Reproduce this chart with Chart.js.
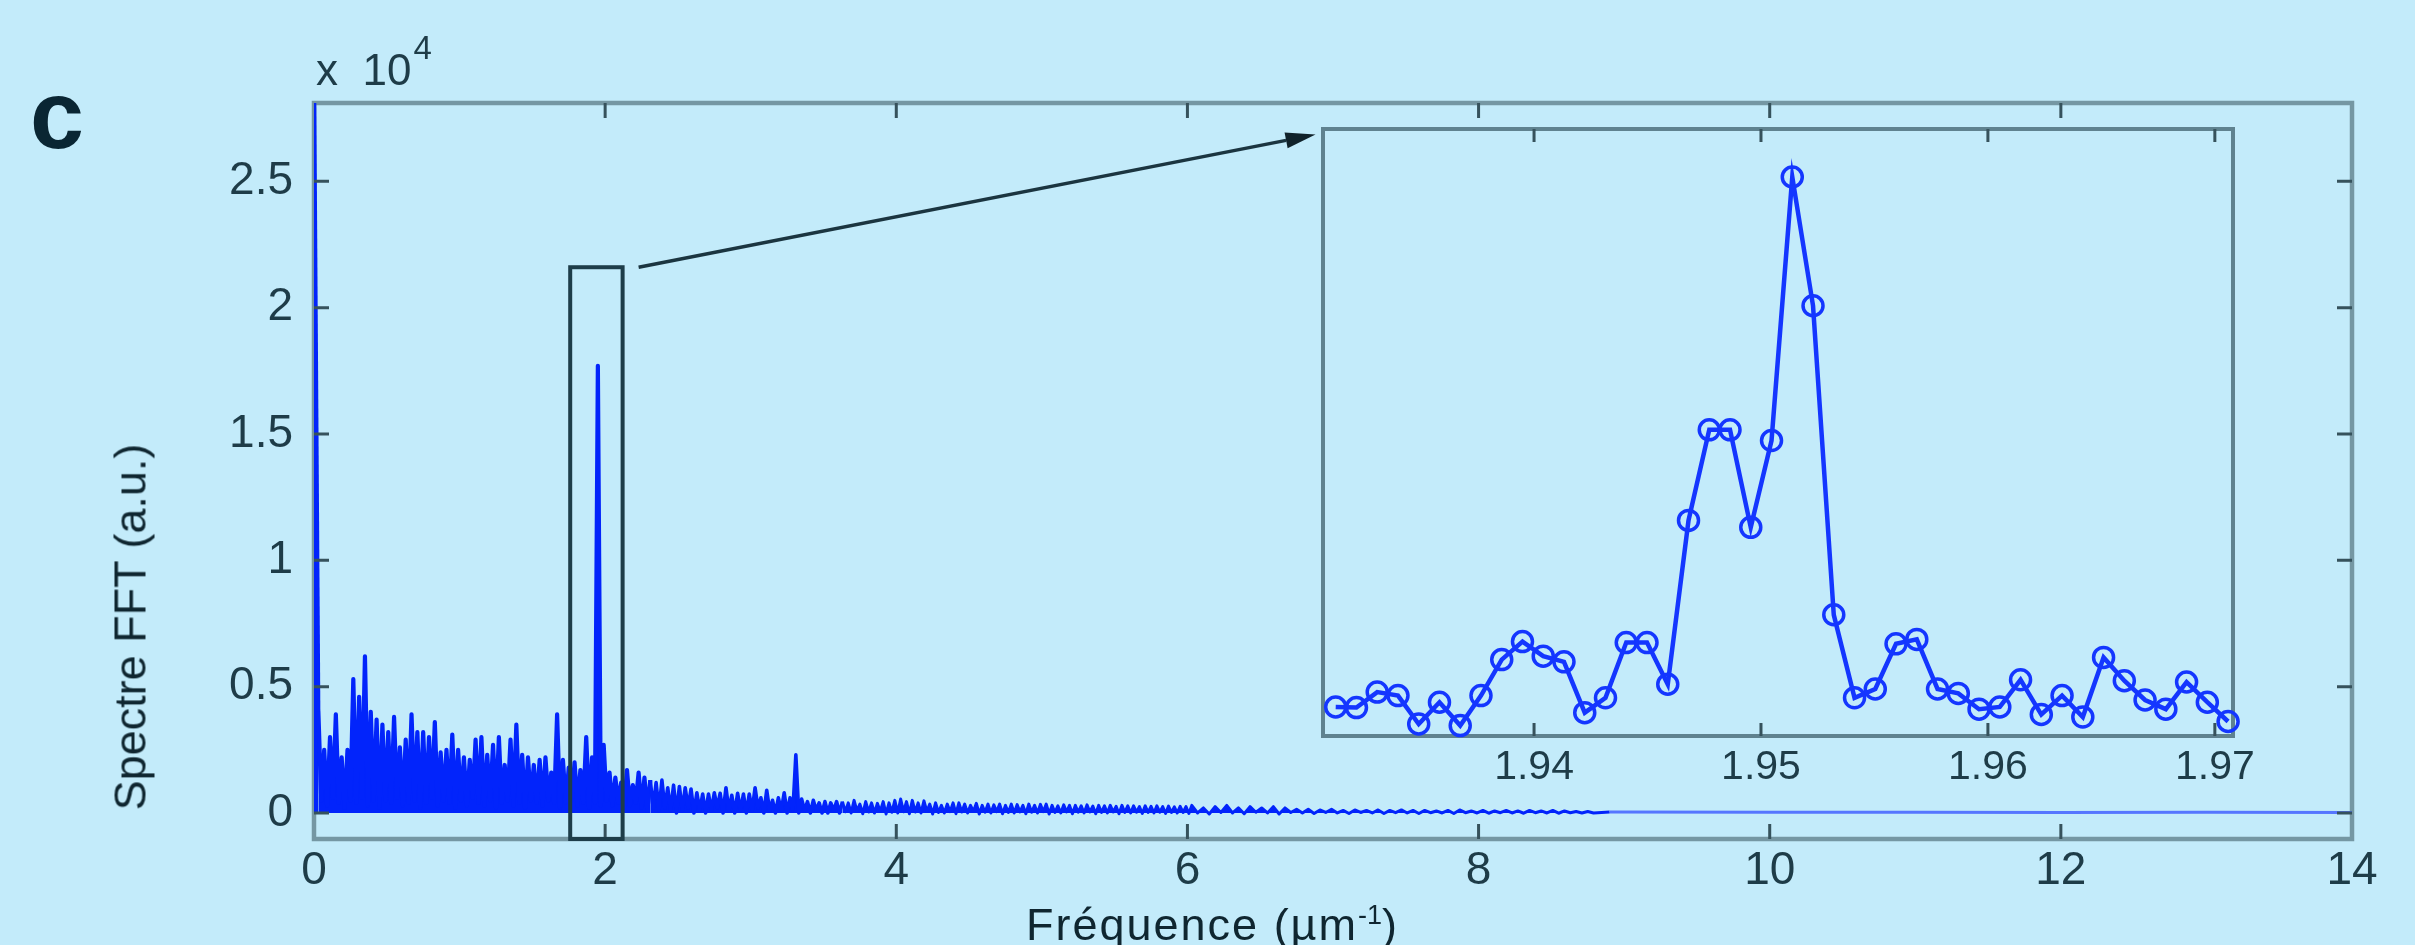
<!DOCTYPE html>
<html>
<head>
<meta charset="utf-8">
<script src="https://cdn.jsdelivr.net/npm/chart.js@4.4.1/dist/chart.umd.min.js"></script>
<style>
  html, body { margin: 0; padding: 0; background: #c3ebfa; }
  #wrap { position: relative; width: 2415px; height: 945px; overflow: hidden;
          font-family: 'Liberation Sans', Arial, Helvetica, sans-serif; }
  #wrap canvas { position: absolute; left: 0; top: 0; }
  .lbl { position: absolute; white-space: nowrap; line-height: 1; }
  #panel { left: 30px; top: 66px; font-size: 97px; font-weight: bold; color: #0a2633; }
  #mult { left: 316px; top: 48px; font-size: 44px; color: #1e3c48; }
  #mult .sup { position: relative; top: -26px; font-size: 33px; margin-left: 2px; }
  #xtitle { left: 1026px; top: 902px; font-size: 45px; letter-spacing: 2px; color: #0f2630; }
  #xtitle .sup { position: relative; top: -16px; font-size: 27px; letter-spacing: 0; }
  #ytitle { left: 130px; top: 627px; font-size: 45px; color: #0f2630;
            transform: translate(-50%, -50%) rotate(-90deg); }
</style>
</head>
<body>
<div id="wrap">
  <canvas id="main-chart" width="2415" height="945"></canvas>
  <canvas id="inset-chart" width="2415" height="945"></canvas>
  <div class="lbl" id="panel">c</div>
  <div class="lbl" id="mult">x&nbsp;&nbsp;10<span class="sup">4</span></div>
  <div class="lbl" id="xtitle">Fréquence (µm<span class="sup">-1</span>)</div>
  <div class="lbl" id="ytitle">Spectre FFT (a.u.)</div>
</div>
<script>
// Spectrum values, in units of 10^4
const dcValue = 3.0;

// dense part (0 to 6): one peak value and one valley value per bin pair
const specStart = 0.03, specStep = 0.04;
const specHi = [
  0.40, 0.25, 0.30, 0.39, 0.22, 0.25, 0.53, 0.46, 0.62, 0.40,
  0.37, 0.35, 0.32, 0.38, 0.26, 0.29, 0.39, 0.32, 0.32, 0.30,
  0.36, 0.24, 0.25, 0.31, 0.25, 0.22, 0.21, 0.29, 0.30, 0.23,
  0.27, 0.30, 0.19, 0.29, 0.35, 0.23, 0.22, 0.19, 0.21, 0.22,
  0.16, 0.39, 0.21, 0.18, 0.20, 0.17, 0.30, 0.22, 1.77, 0.27,
  0.16, 0.14, 0.12, 0.17, 0.11, 0.16, 0.14, 0.13, 0.12, 0.13,
  0.10, 0.11, 0.105, 0.10, 0.095, 0.08, 0.075, 0.075, 0.08, 0.078,
  0.10, 0.07, 0.078, 0.075, 0.075, 0.10, 0.06, 0.09, 0.05, 0.06,
  0.08, 0.06, 0.23, 0.055, 0.045, 0.05, 0.04, 0.045, 0.04, 0.045,
  0.045, 0.04, 0.05, 0.035, 0.045, 0.04, 0.038, 0.045, 0.04, 0.05,
  0.055, 0.045, 0.05, 0.04, 0.048, 0.035, 0.04, 0.03, 0.035, 0.04,
  0.04, 0.035, 0.03, 0.038, 0.03, 0.035, 0.032, 0.035, 0.03, 0.035,
  0.033, 0.03, 0.035, 0.03, 0.034, 0.035, 0.03, 0.028, 0.032, 0.03,
  0.03, 0.028, 0.032, 0.027, 0.03, 0.028, 0.03, 0.026, 0.03, 0.028,
  0.028, 0.025, 0.028, 0.026, 0.028, 0.025, 0.027, 0.024, 0.026, 0.025
];
const specLo = [
  0.05, 0.03, 0.06, 0.04, 0.02, 0.05, 0.04, 0.06, 0.03, 0.05,
  0.02, 0.05, 0.04, 0.06, 0.03, 0.04, 0.05, 0.02, 0.04, 0.06,
  0.03, 0.05, 0.04, 0.02, 0.05, 0.03, 0.06, 0.04, 0.03, 0.05,
  0.02, 0.04, 0.05, 0.03, 0.04, 0.02, 0.05, 0.04, 0.03, 0.05,
  0.04, 0.02, 0.04, 0.05, 0.03, 0.04, 0.02, 0.04, 0.03, 0.05,
  0.03, 0.04, 0.02, 0.03, 0.04, 0.02, 0.01, 0.02, 0.01, 0.02,
  0.01, 0.00, 0.01, 0.02, 0.00, 0.01, 0.00, 0.01, 0.02, 0.00,
  0.01, 0.00, 0.01, 0.00, 0.01, 0.02, 0.00, 0.01, 0.00, 0.01,
  0.00, 0.01, 0.00, 0.01, 0.00, 0.01, 0.00, 0.00, 0.01, 0.00,
  0.005, 0.00, 0.008, -0.003, 0.004, 0.00, 0.006, -0.004, 0.003, 0.00,
  0.005, -0.003, 0.004, 0.00, 0.006, -0.004, 0.002, 0.00, 0.005, -0.003,
  0.004, 0.00, 0.006, -0.004, 0.003, 0.00, 0.005, -0.003, 0.002, 0.00,
  0.004, -0.003, 0.003, 0.00, 0.005, -0.004, 0.002, 0.00, 0.004, -0.003,
  0.003, 0.00, 0.004, -0.003, 0.002, 0.00, 0.004, -0.003, 0.002, 0.00,
  0.003, -0.002, 0.002, 0.00, 0.003, -0.002, 0.002, 0.00, 0.002, -0.002
];

// thin tail after x = 6
const tailStart = 6.03, tailStep = 0.08;
const tailHi = [
  0.03, 0.02, 0.025, 0.03, 0.02, 0.025, 0.02, 0.025, 0.02, 0.015,
  0.015, 0.012, 0.015, 0.01, 0.012, 0.01, 0.012, 0.01, 0.012, 0.01,
  0.01, 0.008, 0.01, 0.012, 0.008, 0.01, 0.008, 0.01, 0.008, 0.01,
  0.008, 0.01, 0.008, 0.006, 0.006
];
const tailLo = [
  0.00, -0.004, 0.002, 0.00, -0.003, 0.003, 0.00, -0.004, 0.002, 0.00,
  -0.002, 0.002, 0.00, -0.002, 0.002, 0.00, -0.002, 0.001, 0.00, -0.002,
  0.001, 0.00, -0.002, 0.001, 0.00, -0.001, 0.001, 0.00, -0.001, 0.001,
  0.00, -0.001, 0.001, 0.00, 0.00
];
const flatX = [8.9, 10, 11, 12, 13, 14];
const flatY = [0.004, 0.003, 0.003, 0.002, 0.003, 0.002];

// Inset: the peak near 1.95 um^-1, one value per FFT bin
const insetStart = 1.93126, insetStep = 0.0009145;
const insetY = [
  0.092, 0.090, 0.139, 0.128, 0.038, 0.107, 0.033, 0.128, 0.242, 0.299,
  0.253, 0.235, 0.074, 0.121, 0.296, 0.296, 0.164, 0.683, 0.970, 0.970,
  0.661, 0.936, 1.771, 1.363, 0.384, 0.121, 0.149, 0.292, 0.306, 0.149,
  0.135, 0.085, 0.092, 0.178, 0.068, 0.128, 0.060, 0.249, 0.175, 0.114,
  0.085, 0.171, 0.107, 0.046
];

// Ticks
const xTicks = [0, 2, 4, 6, 8, 10, 12, 14];
const xTickLabels = ['0', '2', '4', '6', '8', '10', '12', '14'];
const yTicks = [0, 0.5, 1, 1.5, 2, 2.5];
const yTickLabels = ['0', '0.5', '1', '1.5', '2', '2.5'];
const insetTicks = [1.94, 1.95, 1.96, 1.97];
const insetTickLabels = ['1.94', '1.95', '1.96', '1.97'];

// Zoom window and arrow (data units of the main plot)
const zoomX = [1.76, 2.12];
const zoomTop = 2.16;
const arrowFrom = [2.23, 2.16];
const arrowTo = [6.88, 2.685];

// Colours
const bgColor = '#c3ebfa';
const frameColor = '#7597a3';
const tickColor = '#36525c';
const labelColor = '#1e3c48';
const specColor = '#0224fb';
const fontFamily = "'Liberation Sans', Arial, Helvetica, sans-serif";

function buildSpectrum() {
  const pts = [{ x: 0, y: dcValue }];
  specHi.forEach((v, i) => {
    const x = specStart + i * specStep;
    pts.push({ x: x, y: v });
    pts.push({ x: x + specStep / 2, y: specLo[i] });
  });
  tailHi.forEach((v, i) => {
    const x = tailStart + i * tailStep;
    pts.push({ x: x, y: v });
    pts.push({ x: x + tailStep / 2, y: tailLo[i] });
  });
  flatX.forEach((x, i) => pts.push({ x: x, y: flatY[i] }));
  return pts;
}

function buildInset() {
  return insetY.map((v, i) => ({ x: insetStart + i * insetStep, y: v }));
}

// line width by region: the low-frequency part is denser
function specWidth(c) {
  const x = c.p0.parsed.x;
  if (x === 0) return 4;
  if (x < 2.3) return 4.2;
  if (x < 3.62) return 3.6;
  return 3;
}

// Inward tick marks, MATLAB style
function drawInwardTicks(chart, xVals, yVals, len) {
  const { ctx, chartArea: a, scales } = chart;
  ctx.save();
  ctx.strokeStyle = tickColor;
  ctx.lineWidth = 3;
  ctx.beginPath();
  xVals.forEach(v => {
    const px = scales.x.getPixelForValue(v);
    if (px <= a.left + 1 || px >= a.right - 1) return;
    ctx.moveTo(px, a.bottom); ctx.lineTo(px, a.bottom - len);
    ctx.moveTo(px, a.top); ctx.lineTo(px, a.top + len);
  });
  yVals.forEach(v => {
    const py = scales.y.getPixelForValue(v);
    ctx.moveTo(a.left, py); ctx.lineTo(a.left + len, py);
    ctx.moveTo(a.right, py); ctx.lineTo(a.right - len, py);
  });
  ctx.stroke();
  ctx.restore();
}

function drawFrame(chart, color, width) {
  const { ctx, chartArea: a } = chart;
  ctx.save();
  ctx.strokeStyle = color;
  ctx.lineWidth = width;
  ctx.strokeRect(a.left, a.top, a.right - a.left, a.bottom - a.top);
  ctx.restore();
}

const mainDecor = {
  id: 'mainDecor',
  beforeDatasetsDraw(chart) {
    drawFrame(chart, frameColor, 4.5);
  },
  afterDatasetsDraw(chart) {
    const { ctx, chartArea: a, scales } = chart;
    drawInwardTicks(chart, xTicks, yTicks, 15);

    // zoom window
    const x0 = scales.x.getPixelForValue(zoomX[0]);
    const x1 = scales.x.getPixelForValue(zoomX[1]);
    const yTop = scales.y.getPixelForValue(zoomTop);
    ctx.save();
    ctx.strokeStyle = '#1d3d49';
    ctx.lineWidth = 4;
    ctx.strokeRect(x0, yTop, x1 - x0, a.bottom - yTop);

    // arrow to the inset
    const sx = scales.x.getPixelForValue(arrowFrom[0]);
    const sy = scales.y.getPixelForValue(arrowFrom[1]);
    const ex = scales.x.getPixelForValue(arrowTo[0]);
    const ey = scales.y.getPixelForValue(arrowTo[1]);
    const ang = Math.atan2(ey - sy, ex - sx);
    const headLen = 30, headW = 8;
    const bx = ex - headLen * Math.cos(ang);
    const by = ey - headLen * Math.sin(ang);
    ctx.strokeStyle = '#1b3540';
    ctx.fillStyle = '#10222a';
    ctx.lineWidth = 3.5;
    ctx.beginPath();
    ctx.moveTo(sx, sy);
    ctx.lineTo(bx, by);
    ctx.stroke();
    ctx.beginPath();
    ctx.moveTo(ex, ey);
    ctx.lineTo(bx + headW * Math.sin(ang), by - headW * Math.cos(ang));
    ctx.lineTo(bx - headW * Math.sin(ang), by + headW * Math.cos(ang));
    ctx.closePath();
    ctx.fill();
    ctx.restore();
  }
};

const insetDecor = {
  id: 'insetDecor',
  beforeDatasetsDraw(chart) {
    const { ctx, chartArea: a } = chart;
    ctx.save();
    ctx.fillStyle = bgColor;
    ctx.fillRect(a.left, a.top, a.right - a.left, a.bottom - a.top);
    ctx.restore();
    drawFrame(chart, '#5f828f', 4);
  },
  afterDatasetsDraw(chart) {
    drawInwardTicks(chart, insetTicks, [], 13);
  }
};

// Main spectrum chart
const mainChart = new Chart(document.getElementById('main-chart'), {
  type: 'line',
  data: {
    datasets: [{
      data: buildSpectrum(),
      borderColor: specColor,
      backgroundColor: specColor,
      fill: 'origin',
      borderWidth: 2.5,
      borderJoinStyle: 'round',
      pointRadius: 0,
      tension: 0,
      segment: {
        borderColor: c => c.p0.parsed.x >= 8.85 ? '#5676ff' : undefined,
        borderWidth: specWidth
      }
    }]
  },
  options: {
    responsive: false,
    animation: false,
    layout: { padding: { left: 0, top: 103, right: 63, bottom: 0 } },
    plugins: { legend: { display: false }, tooltip: { enabled: false } },
    scales: {
      x: {
        type: 'linear',
        min: 0,
        max: 14,
        grid: { display: false, drawTicks: false },
        border: { display: false },
        afterBuildTicks: s => { s.ticks = xTicks.map(v => ({ value: v })); },
        afterFit: s => { s.height = 106; },
        ticks: {
          autoSkip: false,
          maxRotation: 0,
          padding: 5,
          color: labelColor,
          font: { family: fontFamily, size: 46 },
          callback: (v, i) => xTickLabels[i]
        }
      },
      y: {
        type: 'linear',
        min: -0.103,
        max: 2.81,
        grid: { display: false, drawTicks: false },
        border: { display: false },
        afterBuildTicks: s => { s.ticks = yTicks.map(v => ({ value: v })); },
        afterFit: s => { s.width = 314; },
        ticks: {
          autoSkip: false,
          padding: 21,
          color: labelColor,
          font: { family: fontFamily, size: 46 },
          callback: (v, i) => yTickLabels[i]
        }
      }
    }
  },
  plugins: [mainDecor]
});

// Inset chart (zoom on the peak)
const insetChart = new Chart(document.getElementById('inset-chart'), {
  type: 'line',
  data: {
    datasets: [{
      data: buildInset(),
      borderColor: '#1436ff',
      borderWidth: 4.5,
      tension: 0,
      pointStyle: 'circle',
      pointRadius: 10,
      pointBorderWidth: 3.5,
      pointBorderColor: '#1436ff',
      pointBackgroundColor: 'rgba(0,0,0,0)',
      clip: false
    }]
  },
  options: {
    responsive: false,
    animation: false,
    layout: { padding: { left: 1323, top: 129, right: 182, bottom: 0 } },
    plugins: { legend: { display: false }, tooltip: { enabled: false } },
    scales: {
      x: {
        type: 'linear',
        min: 1.9307,
        max: 1.9708,
        grid: { display: false, drawTicks: false },
        border: { display: false },
        afterBuildTicks: s => { s.ticks = insetTicks.map(v => ({ value: v })); },
        afterFit: s => { s.height = 209; },
        ticks: {
          autoSkip: false,
          maxRotation: 0,
          padding: 7,
          color: labelColor,
          font: { family: fontFamily, size: 41 },
          callback: (v, i) => insetTickLabels[i]
        }
      },
      y: {
        display: false,
        min: 0,
        max: 1.923
      }
    }
  },
  plugins: [insetDecor]
});
</script>
</body>
</html>
